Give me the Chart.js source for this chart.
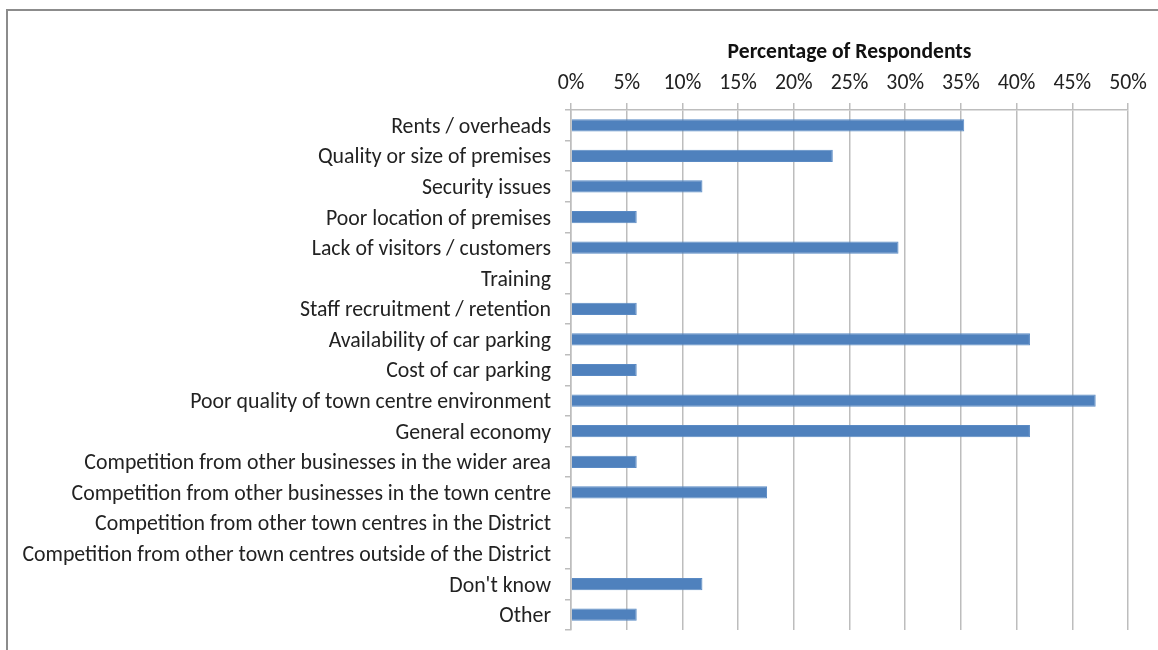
<!DOCTYPE html>
<html>
<head>
<meta charset="utf-8">
<script src="https://cdn.jsdelivr.net/npm/chart.js@4.4.1/dist/chart.umd.min.js"></script>
<style>
  html, body { margin: 0; padding: 0; background: #fff; }
  #wrap { position: relative; width: 1158px; height: 650px; overflow: hidden; }
  #frame { position: absolute; left: 6px; top: 9px; width: 1200px; height: 700px;
           border-top: 2px solid #8c8c8c; border-left: 2px solid #8c8c8c; }
  canvas { position: absolute; left: 0; top: 0; }
</style>
</head>
<body>
<div id="wrap">
  <div id="frame"></div>
  <canvas id="chart" width="1158" height="650"></canvas>
</div>
<script>
const categories = [
  'Rents / overheads',
  'Quality or size of premises',
  'Security issues',
  'Poor location of premises',
  'Lack of visitors / customers',
  'Training',
  'Staff recruitment / retention',
  'Availability of car parking',
  'Cost of car parking',
  'Poor quality of town centre environment',
  'General economy',
  'Competition from other businesses in the wider area',
  'Competition from other businesses in the town centre',
  'Competition from other town centres in the District',
  'Competition from other town centres outside of the District',
  "Don't know",
  'Other'
];

// percentage of respondents per issue
const respondents = [35.3, 23.5, 11.8, 5.9, 29.4, 0, 5.9, 41.2, 5.9, 47.1, 41.2, 5.9, 17.6, 0, 0, 11.8, 5.9];

const xTicks = [0, 5, 10, 15, 20, 25, 30, 35, 40, 45, 50];

const FONT = "Calibri, Carlito, Lato, sans-serif";
const AXIS_LEFT = 571;
const AXIS_TOP = 110;

const ctx = document.getElementById('chart').getContext('2d');
new Chart(ctx, {
  type: 'bar',
  data: {
    labels: categories,
    datasets: [{
      label: 'Percentage of Respondents',
      data: respondents,
      backgroundColor: '#4f81bd',
      borderColor: '#5a8ac4',
      borderWidth: 1,
      barPercentage: 0.8,
      categoryPercentage: 0.5
    }]
  },
  options: {
    indexAxis: 'y',
    responsive: false,
    animation: false,
    layout: { padding: { top: 30, right: 30, bottom: 20, left: 0 } },
    plugins: {
      legend: { display: false },
      tooltip: { enabled: false }
    },
    scales: {
      x: {
        position: 'top',
        min: 0,
        max: 50,
        afterBuildTicks: s => { s.ticks = xTicks.map(v => ({ value: v })); },
        afterFit: s => { s.height = AXIS_TOP - 30; },
        ticks: {
          callback: v => v + '%',
          color: '#222',
          padding: 6,
          font: { family: FONT, size: 21.8 }
        },
        grid: { color: '#bdbdbd', lineWidth: 1.5, tickLength: 7 },
        border: { color: '#bdbdbd', width: 1.5 },
        title: {
          display: true,
          text: 'Percentage of Respondents',
          color: '#111',
          padding: { top: 10, bottom: 0 },
          font: { family: FONT, size: 21.6, weight: 'bold' }
        }
      },
      y: {
        // keep the category labels from pushing the plot area up from the bottom
        afterFit: s => { s.width = AXIS_LEFT; s.paddingTop = 0; s.paddingBottom = 0; },
        ticks: {
          color: '#222',
          padding: 14,
          labelOffset: 2,
          autoSkip: false,
          font: { family: FONT, size: 21.8 }
        },
        grid: { offset: true, drawOnChartArea: false, color: '#bdbdbd', lineWidth: 1.5, tickLength: 6 },
        border: { color: '#bdbdbd', width: 1.5 }
      }
    }
  }
});
</script>
</body>
</html>
